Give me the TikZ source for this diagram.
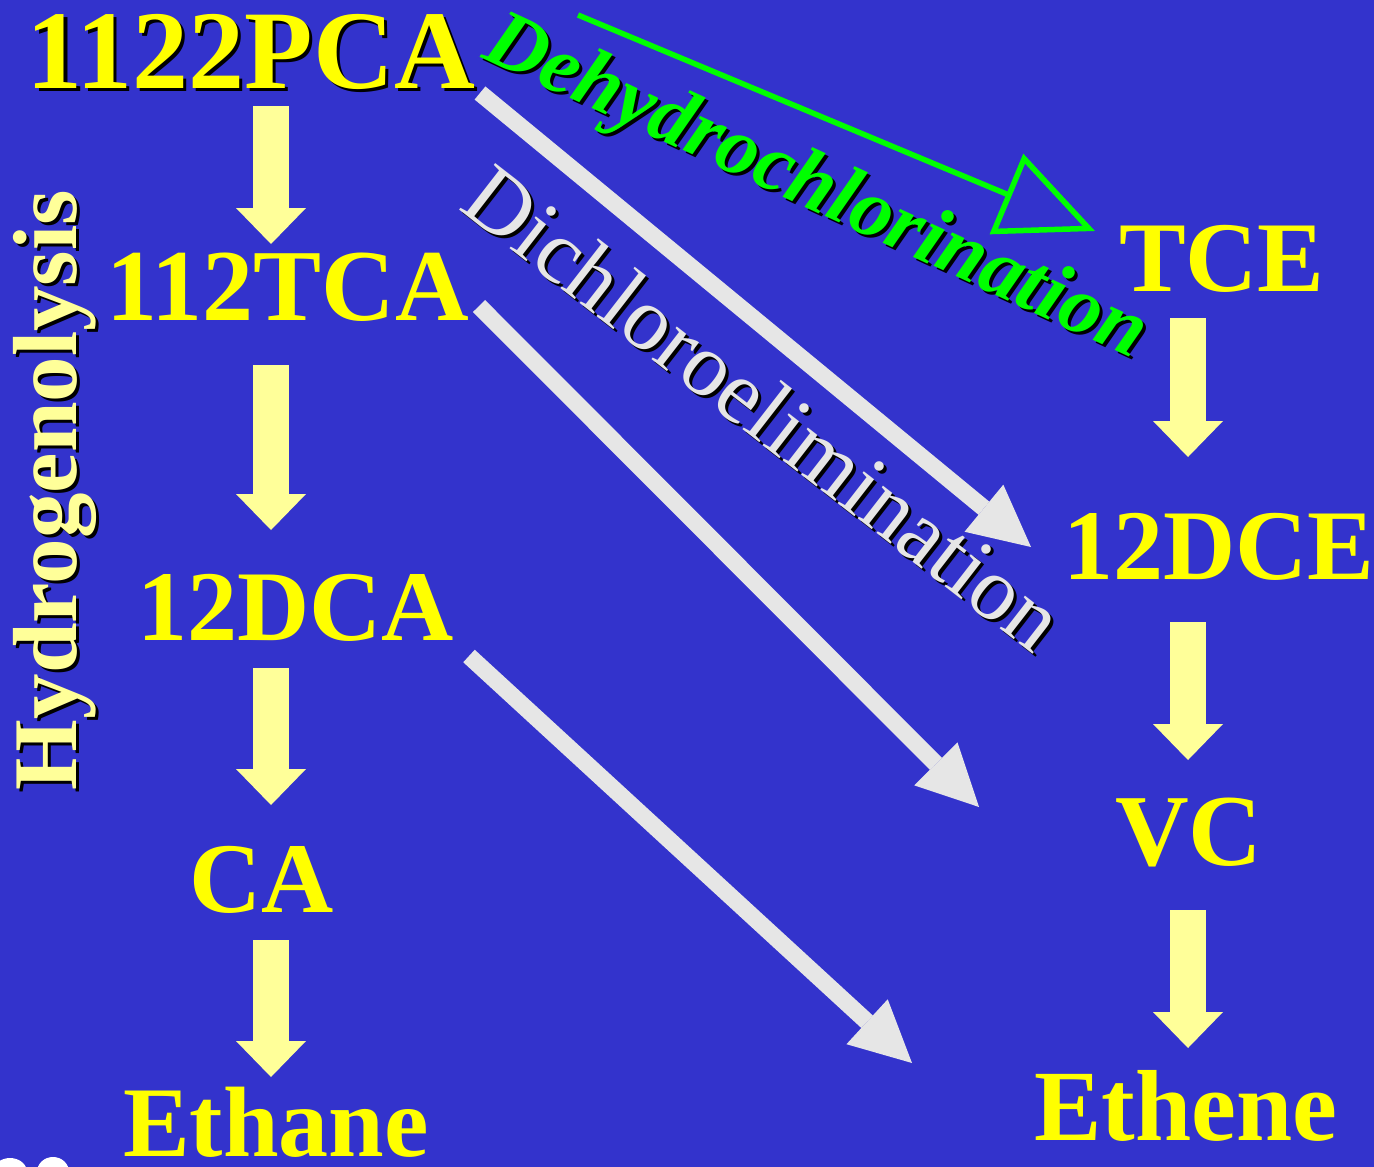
\documentclass[tikz,border=0pt]{standalone}
\usepackage{fontspec}
\setmainfont{Liberation Serif}
\usetikzlibrary{arrows.meta,calc}
\definecolor{bg}{HTML}{3333CC}
\definecolor{ylw}{HTML}{FFFF00}
\definecolor{pale}{HTML}{FFFF99}
\definecolor{wgray}{HTML}{E6E6E6}
\definecolor{grn}{HTML}{00FF00}
% text with a black drop shadow; #1 = shift along text, #2 = raise
\newcommand\withshadow[3]{\makebox[0pt][l]{\kern#1pt\raisebox{#2pt}{\color{black}#3}}#3}
\begin{document}
\begin{tikzpicture}[x=1pt,y=-1pt,
  lbl/.style={inner sep=0pt, outer sep=0pt, anchor=base west,
    font=\bfseries\fontsize{#1}{#1}\selectfont, text=ylw},
  lbl/.default=100,
  yarr/.style={draw=pale, line width=36pt,
    -{Triangle[length=36pt, width=70pt, line width=0pt]}},
  warr/.style={draw=wgray, line width=17pt,
    -{Triangle[length=61pt, width=61pt, line width=0pt]}},
  garr/.style={draw=grn, line width=5.5pt,
    -{Triangle[open, length=96pt, width=86pt]}}
]
\useasboundingbox (0,0) rectangle (1374,1167);
\fill[bg] (0,0) rectangle (1374,1167);
\begin{scope}
\clip (0,0) rectangle (1374,1167);
\fill[white] (10,1172) ellipse [x radius=17pt, y radius=14pt];
\fill[white] (53,1172) ellipse [x radius=16pt, y radius=15pt];
\end{scope}

% column guides
\coordinate (colL) at (271,0);
\coordinate (colR) at (1188,0);

% left column
\node[lbl=112] (pca) at (27,88) {\withshadow{3}{-3}{1122PCA}};
\node[lbl=102] (tca) at (106,320) {112TCA};
\node[lbl=100] (dca) at (137,640) {12DCA};
\node[lbl=100] (ca) at (189,912) {CA};
\node[lbl=100] (ethane) at (123,1156) {Ethane};

% right column
\node[lbl=100] (tce) at (1119,291) {TCE};
\node[lbl=100] (dce) at (1063,579) {12DCE};
\node[lbl=102] (vc) at (1115,865) {VC};
\node[lbl=101] (ethene) at (1034,1140) {Ethene};

% Hydrogenolysis
\node[lbl=91, rotate=90, text=pale] (hydro) at (76,790) {\withshadow{-3}{-3}{Hydrogenolysis}};

% vertical block arrows
\draw[yarr] ($(pca.base -| colL)+(0,18)$) -- ($(tca.base -| colL)+(0,-76)$);
\draw[yarr] ($(tca.base -| colL)+(0,45)$) -- ($(dca.base -| colL)+(0,-110)$);
\draw[yarr] ($(dca.base -| colL)+(0,28)$) -- ($(ca.base -| colL)+(0,-107)$);
\draw[yarr] ($(ca.base -| colL)+(0,28)$) -- ($(ethane.base -| colL)+(0,-79)$);
\draw[yarr] ($(tce.base -| colR)+(0,27)$) -- ($(dce.base -| colR)+(0,-122)$);
\draw[yarr] ($(dce.base -| colR)+(0,43)$) -- ($(vc.base -| colR)+(0,-105)$);
\draw[yarr] ($(vc.base -| colR)+(0,45)$) -- ($(ethene.base -| colR)+(0,-92)$);

% dichloroelimination arrows
\draw[warr] ($(pca.base west)+(453,5)$) -- ($(dce.base west)+(-32,-32)$);
\draw[warr] ($(tca.base west)+(373,-14)$) -- ($(vc.base west)+(-136,-58)$);
\draw[warr] ($(dca.base west)+(332,16)$) -- ($(ethene.base west)+(-122,-77)$);

% dehydrochlorination arrow
\coordinate (gstart) at (578,15);
\draw[garr] (gstart) -- ($(tce.base west)+(-24,-60)$);

% process labels
\node[inner sep=0pt, anchor=base west, rotate=-24.8, text=grn,
  font=\bfseries\itshape\fontsize{83}{83}\selectfont] (dehydro) at (480,57)
  {\withshadow{4}{-1.5}{Dehydrochlorination}};
\node[inner sep=0pt, anchor=base west, rotate=-37.8, text=wgray,
  font=\fontsize{90}{90}\selectfont] (dichloro) at (457,208)
  {\withshadow{4.2}{-0.5}{Dichloroelimination}};
\end{tikzpicture}
\end{document}
